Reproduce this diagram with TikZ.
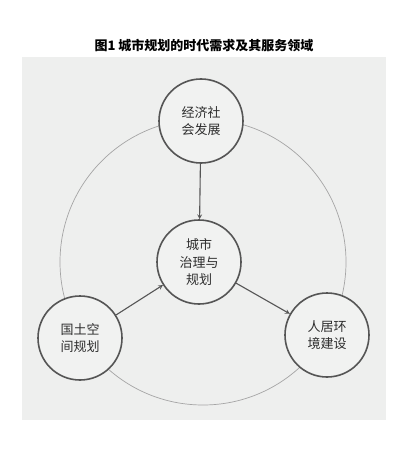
\documentclass[tikz,border=0pt]{standalone}
\usepackage{fontspec}
\newfontfamily\cjk{Noto Sans CJK SC}
\usepackage{color}
\definecolor{mybggray}{RGB}{238,239,238}
\definecolor{myfillgray}{RGB}{241,242,241}
\definecolor{myedgegray}{RGB}{85,85,85}
\definecolor{myringgray}{RGB}{165,165,165}
\definecolor{mytextgray}{RGB}{45,45,45}
\usepackage{tikz}
\usetikzlibrary{arrows,positioning,calc}

\begin{document}
\begin{tikzpicture}[
  x=1pt,
  y=-1pt,
  mycircle/.style={
    draw=myedgegray,
    line width=1.6pt,
    fill=myfillgray,
    circle,
    minimum size=84pt,
    inner sep=0pt,
    align=center,
    text=mytextgray,
    font=\cjk\fontsize{13}{17.5}\selectfont
    },
  myarrow/.style={
    draw=myedgegray,
    line width=1.1pt,
    -stealth
    }
]

\useasboundingbox (0,0) rectangle (412,449);
\fill[white] (0,0) rectangle (412,449);
\fill[mybggray] (22,57) rectangle (386,420);

\node[font=\cjk\bfseries\fontsize{13}{15}\selectfont] (title) at (204,46) {图1\ 城市规划的时代需求及其服务领域};

\draw[myringgray, line width=0.7pt] (203,262) circle[radius=143];

\node[mycircle] (econ) at (201,121) {经济社\\会发展};
\node[mycircle] (gov) at (199,262) {城市\\治理与\\规划};
\node[mycircle] (land) at (80,338) {国土空\\间规划};
\node[mycircle] (human) at (327,335) {人居环\\境建设};

\draw[myarrow] (econ) -- (gov);
\draw[myarrow] (land) -- (gov);
\draw[myarrow] (gov) -- (human);
\end{tikzpicture}
\end{document}
